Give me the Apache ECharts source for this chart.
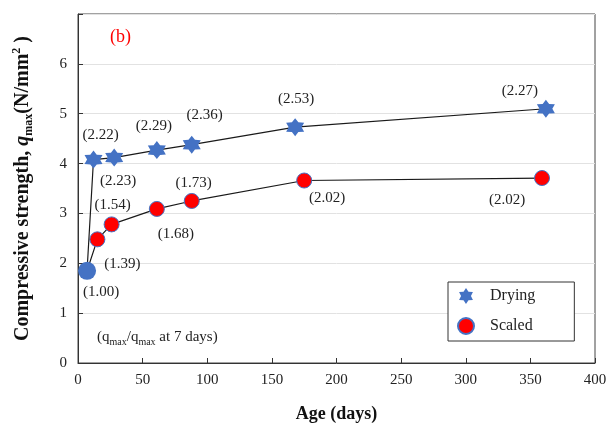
<!DOCTYPE html>
<html><head><meta charset="utf-8">
<script src="https://cdn.jsdelivr.net/npm/echarts@6/dist/echarts.min.js"></script>
<style>html,body{margin:0;padding:0;background:#fff}#c{width:616px;height:428px}</style>
</head><body><div id="c"></div>
<script>
// ---- data ----
const dryingDays = [7, 12, 28, 61, 88, 168, 362];
const dryingStrength = [1.85, 4.08, 4.12, 4.27, 4.38, 4.73, 5.10];
const dryingRatio = ['', '(2.22)', '(2.23)', '(2.29)', '(2.36)', '(2.53)', '(2.27)'];
const scaledDays = [7, 15, 26, 61, 88, 175, 359];
const scaledStrength = [1.85, 2.48, 2.78, 3.09, 3.25, 3.66, 3.71];
const scaledRatio = ['(1.00)', '(1.39)', '(1.54)', '(1.68)', '(1.73)', '(2.02)', '(2.02)'];
const xTickLabels = ['0', '50', '100', '150', '200', '250', '300', '350', '400'];
const yTickLabels = ['0', '1', '2', '3', '4', '5', '6'];

// ---- layout (label offsets in px) ----
const dryingLabelOffset = [[0,0],[7,-25],[4,23],[-3,-24],[13,-30],[1,-28],[-26,-18]];
const scaledLabelOffset = [[14,21],[25,25],[1,-19],[19,25],[2,-18],[23,18],[-35,22]];

const SERIF = '"Liberation Serif","DejaVu Serif",serif';
const BLUE = '#4472c4';
const RED = '#ff0000';

// six-pointed star symbol
function hexagram() {
  const pts = [];
  for (let k = 0; k < 12; k++) {
    const a = (-90 + k * 30) * Math.PI / 180;
    const r = k % 2 === 0 ? 10 : 6.2;
    pts.push((10 + r * Math.cos(a)).toFixed(2) + ' ' + (10 + r * Math.sin(a)).toFixed(2));
  }
  return 'path://M' + pts.join(' L') + ' Z';
}
const STAR = hexagram();

function buildData(days, vals, ratios, offsets, firstSymbol) {
  return days.map((d, i) => {
    const o = {
      value: [d, vals[i]],
      label: {
        show: ratios[i] !== '',
        formatter: ratios[i],
        position: 'inside',
        offset: offsets[i]
      }
    };
    if (i === 0 && firstSymbol) o.symbol = firstSymbol;
    return o;
  });
}

const labelStyle = {
  fontFamily: SERIF, fontSize: 15, color: '#222',
  align: 'center', verticalAlign: 'middle'
};

const chart = echarts.init(document.getElementById('c'), null, {renderer: 'canvas'});
chart.setOption({
  animation: false,
  backgroundColor: '#fff',
  grid: {left: 78, right: 21, top: 14, bottom: 61, show: true, borderColor: '#444', borderWidth: 1, containLabel: false},
  xAxis: {
    type: 'value', min: 0, max: 400, interval: 50,
    name: 'Age (days)', nameLocation: 'middle', nameGap: 42,
    nameTextStyle: {fontFamily: SERIF, fontSize: 18, fontWeight: 'bold', color: '#111'},
    axisLine: {show: true, lineStyle: {color: '#333', width: 1}},
    axisTick: {show: true, inside: true, length: 5, lineStyle: {color: '#333'}},
    axisLabel: {fontFamily: SERIF, fontSize: 15, color: '#222', margin: 10,
      formatter: v => xTickLabels[Math.round(v / 50)] ?? ''},
    splitLine: {show: false}
  },
  yAxis: {
    type: 'value', min: 0, max: 7, interval: 1,
    name: '{b|Compressive strength, }{i|q}{s|max}{b|(N/mm}{p|2}{b| )}',
    nameLocation: 'middle', nameGap: 43, nameRotate: 90,
    nameTextStyle: {
      fontFamily: SERIF, fontSize: 20, fontWeight: 'bold', color: '#111',
      rich: {
        b: {fontFamily: SERIF, fontSize: 20, fontWeight: 'bold', color: '#111', lineHeight: 24, verticalAlign: 'middle'},
        i: {fontFamily: SERIF, fontSize: 20, fontWeight: 'bold', fontStyle: 'italic', color: '#111', lineHeight: 24, verticalAlign: 'middle'},
        s: {fontFamily: SERIF, fontSize: 12, fontWeight: 'bold', color: '#111', lineHeight: 24, verticalAlign: 'bottom'},
        p: {fontFamily: SERIF, fontSize: 12, fontWeight: 'bold', color: '#111', lineHeight: 24, verticalAlign: 'top'}
      }
    },
    axisLine: {show: true, lineStyle: {color: '#333', width: 1}},
    axisTick: {show: true, inside: true, length: 5, lineStyle: {color: '#333'}},
    axisLabel: {fontFamily: SERIF, fontSize: 15, color: '#222', margin: 11,
      formatter: v => yTickLabels[Math.round(v)] ?? ''},
    splitLine: {show: true, lineStyle: {color: '#e2e2e2', width: 1}}
  },
  legend: {
    orient: 'vertical', left: 448, top: 282,
    itemWidth: 16, itemHeight: 16, itemGap: 13,
    padding: [6, 39, 6, 9],
    borderColor: '#333', borderWidth: 1, backgroundColor: '#fff',
    textStyle: {fontFamily: SERIF, fontSize: 16, color: '#222', padding: [0, 0, 0, 11]},
    data: [{name: 'Drying', icon: STAR}, {name: 'Scaled', icon: 'circle'}]
  },
  series: [
    {
      name: 'Scaled', type: 'line',
      data: buildData(scaledDays, scaledStrength, scaledRatio, scaledLabelOffset, null),
      symbol: 'circle', symbolSize: 15,
      itemStyle: {color: RED, borderColor: BLUE, borderWidth: 1},
      lineStyle: {color: '#1a1a1a', width: 1.2},
      label: labelStyle, z: 2
    },
    {
      name: 'Drying', type: 'line',
      data: buildData(dryingDays, dryingStrength, dryingRatio, dryingLabelOffset, 'circle'),
      symbol: STAR, symbolSize: 18,
      itemStyle: {color: BLUE},
      lineStyle: {color: '#1a1a1a', width: 1.2},
      label: labelStyle, z: 3
    }
  ],
  graphic: [
    {type: 'text', left: 110, top: 28,
      style: {text: '(b)', fontFamily: SERIF, fontSize: 18, fill: RED}},
    {type: 'text', left: 97, top: 330,
      style: {
        text: '{a|(q}{s|max}{a|/q}{s|max}{a| at 7 days)}',
        rich: {
          a: {fontFamily: SERIF, fontSize: 15, fill: '#222', lineHeight: 20, verticalAlign: 'middle'},
          s: {fontFamily: SERIF, fontSize: 10, fill: '#222', lineHeight: 20, verticalAlign: 'bottom'}
        }
      }}
  ]
});
</script></body></html>
